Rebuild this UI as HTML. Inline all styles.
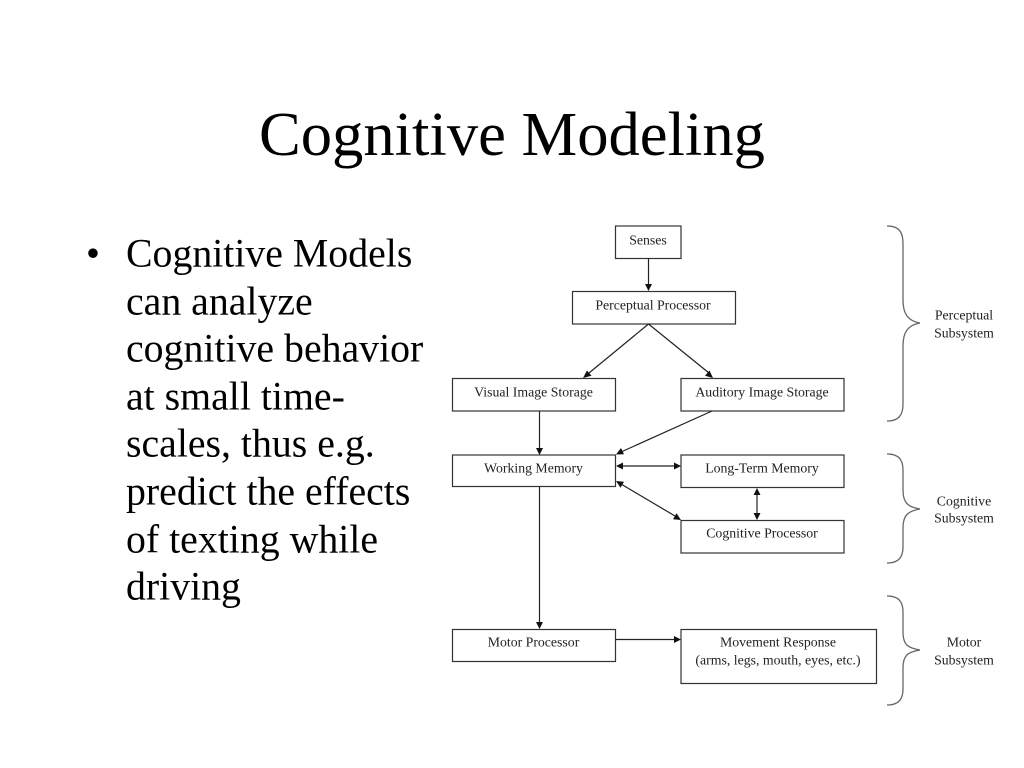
<!DOCTYPE html>
<html>
<head>
<meta charset="utf-8">
<style>
html,body{margin:0;padding:0;background:#fff;width:1024px;height:768px;overflow:hidden}
svg{display:block}
text{font-family:"Liberation Serif",serif;fill:#000}
.l{font-size:13.8px;fill:#222;text-anchor:middle}
.b{font-size:39.8px}
rect{fill:#fff;stroke:#333;stroke-width:1.2}
.c{stroke:#222;stroke-width:1.2;fill:none}
.h{fill:#111;stroke:none}
.br{stroke:#666;stroke-width:1.3;fill:none}
</style>
</head>
<body>
<svg width="1024" height="768" viewBox="0 0 1024 768" xmlns="http://www.w3.org/2000/svg">
<text x="512" y="155" font-size="62.6" text-anchor="middle">Cognitive Modeling</text>

<text class="b" x="86" y="266.500">•</text>
<text class="b" x="126" y="266.500">Cognitive Models</text>
<text class="b" x="126" y="314.500">can analyze</text>
<text class="b" x="126" y="361.500">cognitive behavior</text>
<text class="b" x="126" y="409.500">at small time-</text>
<text class="b" x="126" y="456.500">scales, thus e.g.</text>
<text class="b" x="126" y="504.500">predict the effects</text>
<text class="b" x="126" y="552.500">of texting while</text>
<text class="b" x="126" y="599.500">driving</text>

<rect x="615.5" y="226" width="65.5" height="32.5"/>
<rect x="572.5" y="291.5" width="163" height="32.5"/>
<rect x="452.5" y="378.5" width="163" height="32.5"/>
<rect x="681" y="378.5" width="163" height="32.5"/>
<rect x="452.5" y="455" width="163" height="31.5"/>
<rect x="681" y="455" width="163" height="32.5"/>
<rect x="681" y="520.5" width="163" height="32.5"/>
<rect x="452.5" y="629.5" width="163" height="32"/>
<rect x="681" y="629.5" width="195.5" height="54"/>

<text class="l" x="648" y="244.500">Senses</text>
<text class="l" x="653" y="309.500">Perceptual Processor</text>
<text class="l" x="533.500" y="396.500">Visual Image Storage</text>
<text class="l" x="762" y="396.500">Auditory Image Storage</text>
<text class="l" x="533.500" y="472.500">Working Memory</text>
<text class="l" x="762" y="472.500">Long-Term Memory</text>
<text class="l" x="762" y="537.500">Cognitive Processor</text>
<text class="l" x="533.500" y="646.500">Motor Processor</text>
<text class="l" x="778" y="646.500">Movement Response</text>
<text class="l" x="778" y="664.500">(arms, legs, mouth, eyes, etc.)</text>

<text class="l" x="964" y="319.500">Perceptual</text>
<text class="l" x="964" y="337.500">Subsystem</text>
<text class="l" x="964" y="505.500">Cognitive</text>
<text class="l" x="964" y="522.500">Subsystem</text>
<text class="l" x="964" y="646.500">Motor</text>
<text class="l" x="964" y="664.500">Subsystem</text>

<path class="c" d="M648.5 258V285"/>
<path class="h" d="M648.5 291l-3.5-7h7z"/>
<path class="c" d="M648.5 324L589 373"/>
<path class="h" d="M583 378l4-7.5 4.5 5.3z"/>
<path class="c" d="M648.5 324L709 373"/>
<path class="h" d="M713 378l-8-2.200 4.500-5.300z"/>
<path class="c" d="M539.500 411V449"/>
<path class="h" d="M539.500 455l-3.500-7h7z"/>
<path class="c" d="M712 411L621 452"/>
<path class="h" d="M616 454.500l5-6.500 3 6.300z"/>
<path class="c" d="M621 466H675"/>
<path class="h" d="M616 466l7-3.500v7zM681 466l-7-3.500v7z"/>
<path class="c" d="M621 484L675 516"/>
<path class="h" d="M616 481l8 .8-3.500 6zM681 520l-8-.8 3.500-6z"/>
<path class="c" d="M757 493V514"/>
<path class="h" d="M757 488l-3.500 7h7zM757 520l-3.500-7h7z"/>
<path class="c" d="M539.500 486.500V623"/>
<path class="h" d="M539.500 629l-3.500-7h7z"/>
<path class="c" d="M615.500 639.500H675"/>
<path class="h" d="M681 639.500l-7-3.500v7z"/>

<path class="br" d="M887 226C898 226 903 231 903 243V300C903 314 908 321 920 323C908 325 903 332 903 346V404C903 416 898 421 887 421"/>
<path class="br" d="M887 454C898 454 903 459 903 470V490C903 503 908 507 920 509C908 511 903 515 903 528V547C903 558 898 563 887 563"/>
<path class="br" d="M887 596C898 596 903 601 903 612V632C903 645 908 648 920 650C908 652 903 655 903 668V689C903 700 898 705 887 705"/>
</svg>
</body>
</html>
